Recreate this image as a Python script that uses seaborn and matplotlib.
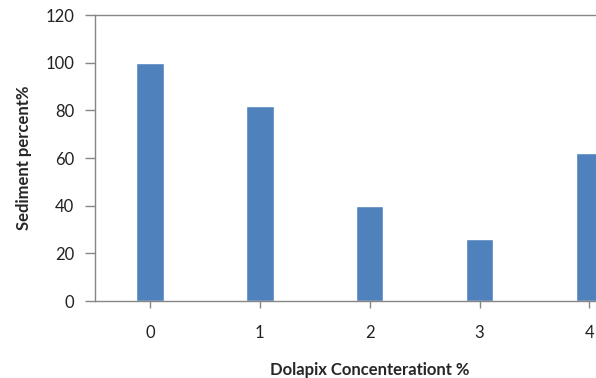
import matplotlib
matplotlib.use("Agg")
import matplotlib.pyplot as plt
import seaborn as sns

# Data
concentrations = ["0", "1", "2", "3", "4"]
sediment = [100, 82, 40, 26, 62]
y_ticks = [0, 20, 40, 60, 80, 100, 120]

bar_color = "#4F81BD"
axis_color = "#868686"

sns.set_style("white")
plt.rcParams["font.family"] = ["Lato", "DejaVu Sans"]

fig = plt.figure(figsize=(5.96, 3.78), dpi=100)
ax = fig.add_axes([0.1594, 0.2037, 0.8406, 0.7566])

sns.barplot(x=concentrations, y=sediment, color=bar_color, saturation=1,
            width=0.25, ax=ax)

ax.set_xlim(-0.5, 4.06)
ax.set_ylim(0, 120)
ax.set_yticks(y_ticks)

for side in ["top", "left", "bottom"]:
    ax.spines[side].set_color(axis_color)
    ax.spines[side].set_linewidth(1.0)
ax.spines["right"].set_visible(False)

ax.tick_params(axis="x", direction="out", length=5, width=1, color=axis_color,
               pad=12, labelsize=12, labelcolor="#222222")
ax.tick_params(axis="y", direction="out", length=7, width=1, color=axis_color,
               pad=8, labelsize=12, labelcolor="#222222")
ax.tick_params(bottom=True, left=True)

ax.set_xlabel("Dolapix Concenterationt %", fontsize=12, fontweight="bold")
ax.set_ylabel("Sediment percent%", fontsize=12, fontweight="bold")
ax.xaxis.set_label_coords(0.549, -0.215)
ax.yaxis.set_label_coords(-0.125, 0.5)

fig.savefig("out.png", dpi=100)
